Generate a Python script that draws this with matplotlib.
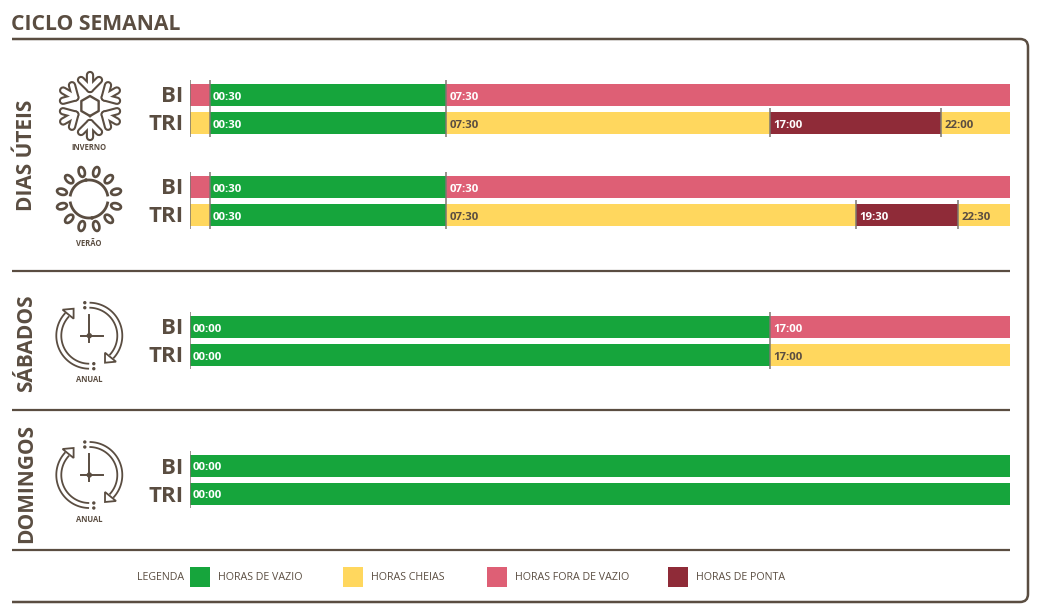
"""Ciclo semanal: horas de vazio, cheias, fora de vazio e ponta."""

import numpy as np
import matplotlib
matplotlib.use("Agg")
import matplotlib.pyplot as plt
from matplotlib.patches import Circle, Ellipse, PathPatch, Polygon, Rectangle
from matplotlib.path import Path

plt.rcParams["font.family"] = ["Open Sans", "DejaVu Sans"]

BROWN = "#5a4d41"
GREY = "#7d7770"
colors = {"V": "#16a53c", "C": "#ffd75e", "F": "#de5f75", "P": "#8f2b38"}

# every row: start hour of each stretch, its class and the printed time
row_names = ["BI", "TRI", "BI", "TRI", "BI", "TRI", "BI", "TRI"]
row_starts = [
    [0, 0.58, 7.5],
    [0, 0.58, 7.5, 17, 22],
    [0, 0.58, 7.5],
    [0, 0.58, 7.5, 19.5, 22.5],
    [0, 17],
    [0, 17],
    [0],
    [0],
]
row_classes = [
    ["F", "V", "F"],
    ["C", "V", "C", "P", "C"],
    ["F", "V", "F"],
    ["C", "V", "C", "P", "C"],
    ["V", "F"],
    ["V", "C"],
    ["V"],
    ["V"],
]
row_labels = [
    ["", "00:30", "07:30"],
    ["", "00:30", "07:30", "17:00", "22:00"],
    ["", "00:30", "07:30"],
    ["", "00:30", "07:30", "19:30", "22:30"],
    ["00:00", "17:00"],
    ["00:00", "17:00"],
    ["00:00"],
    ["00:00"],
]
legend_names = ["HORAS DE VAZIO", "HORAS CHEIAS", "HORAS FORA DE VAZIO", "HORAS DE PONTA"]
legend_classes = ["V", "C", "F", "P"]

# layout, in pixels of the picture
row_y = [95, 123, 187, 215, 327, 355, 466, 494]
legend_x = [190, 343, 487, 668]
W, H = 1042, 606
BAR_L, BAR_R = 190, 1009.5

fig = plt.figure(figsize=(W / 100, H / 100), dpi=100)
bg = fig.add_axes([0, 0, 1, 1])
bg.set_xlim(0, W)
bg.set_ylim(H, 0)
bg.axis("off")

ax = fig.add_axes([BAR_L / W, 0, (BAR_R - BAR_L) / W, 1])
ax.set_xlim(0, 24)
ax.set_ylim(H, 0)
ax.axis("off")
ax.patch.set_alpha(0)

# bars and their time labels
for y, starts, classes, labels in zip(row_y, row_starts, row_classes, row_labels):
    ends = starts[1:] + [24]
    for s, e, c, lab in zip(starts, ends, classes, labels):
        ax.barh(y, e - s, left=s, height=22, color=colors[c], linewidth=0)
        if lab:
            tc = BROWN if c == "C" else "white"
            ax.text(s + 0.09, y + 2, lab, color=tc, fontsize=8.2, fontweight="bold",
                    va="center", ha="left")

# time separators: one group per BI/TRI pair
for i in range(0, 8, 2):
    top, bot = row_y[i] - 15, row_y[i + 1] + 14
    for s in row_starts[i]:
        ax.plot([s, s], [top, bot], color=GREY, lw=1.1, solid_capstyle="butt")
    for s in row_starts[i + 1]:
        if s not in row_starts[i]:
            ax.plot([s, s], [row_y[i + 1] - 15, bot], color=GREY, lw=1.1, solid_capstyle="butt")

# row names
for y, name in zip(row_y, row_names):
    bg.text(183.5, y + 2, name, color=BROWN, fontsize=16, fontweight="bold", ha="right", va="center")

# title, frame and separators
bg.text(11, 24, "CICLO SEMANAL", color=BROWN, fontsize=15.2, fontweight="bold", ha="left", va="center")
frame = Path(
    [(12, 39), (1020, 39), (1028, 39), (1028, 47), (1028, 594), (1028, 602), (1020, 602), (12, 602)],
    [Path.MOVETO, Path.LINETO, Path.CURVE3, Path.CURVE3, Path.LINETO, Path.CURVE3, Path.CURVE3, Path.LINETO],
)
bg.add_patch(PathPatch(frame, fill=False, edgecolor=BROWN, lw=1.8))
for y in [271, 410, 550]:
    bg.plot([12, 1009.5], [y, y], color=BROWN, lw=1.6, solid_capstyle="butt")

# day names
for y, name in [(155, "DIAS ÚTEIS"), (343, "SÁBADOS"), (483, "DOMINGOS")]:
    bg.text(27, y, name, color=BROWN, fontsize=15, fontweight="bold", rotation=90,
            ha="center", va="center")


def snowflake(cx, cy):
    hex_a = np.radians(np.arange(0, 361, 60))
    bg.plot(cx + 10 * np.sin(hex_a), cy + 10 * np.cos(hex_a), color=BROWN, lw=1.7)
    strokes = []
    for a in np.radians(np.arange(0, 360, 60)):
        d = np.array([np.sin(a), -np.cos(a)])
        n = np.array([d[1], -d[0]])
        c0 = np.array([cx, cy]) + 17 * d
        strokes.append(np.array([c0, c0 + 14 * d]))
        strokes.append(np.array([c0 + 9 * d + 9 * n, c0, c0 + 9 * d - 9 * n]))
    for lw, col in [(6, BROWN), (3, "white")]:
        for st in strokes:
            bg.plot(st[:, 0], st[:, 1], color=col, lw=lw, solid_capstyle="round", solid_joinstyle="round")


def sun(cx, cy):
    for a0, a1 in [(-78, 78), (102, 258)]:
        a = np.radians(np.linspace(a0, a1, 60))
        bg.plot(cx + 19 * np.sin(a), cy - 19 * np.cos(a), color=BROWN, lw=2)
    for a in np.arange(15, 360, 30):
        r = np.radians(a)
        bg.add_patch(Ellipse((cx + 28 * np.sin(r), cy - 28 * np.cos(r)), 6, 10, angle=a,
                             facecolor="white", edgecolor=BROWN, lw=1.9))
    for sign in [-1, 1]:
        bg.add_patch(Circle((cx - 3 * sign, cy - sign * 19), 1.1, color=BROWN))


def clock(cx, cy):
    bg.plot([cx, cx], [cy - 21, cy + 6], color=BROWN, lw=1.4)
    bg.plot([cx - 8, cx + 14], [cy, cy], color=BROWN, lw=1.4)
    bg.add_patch(Circle((cx, cy), 2, color=BROWN))
    for a0, a1, sign in [(2, 132, 1), (182, 312, -1)]:
        a = np.radians(np.linspace(a0, a1, 60))
        for r in [33, 28]:
            bg.plot(cx + r * np.sin(a), cy - r * np.cos(a), color=BROWN, lw=1.3)
        # arrow head at the end of the arc
        tx, ty = cx + sign * 15.7, cy + sign * 27
        bg.add_patch(Polygon([(tx, ty), (tx + sign * 11, ty - sign * 1), (tx, ty - sign * 10)],
                             closed=True, facecolor="white", edgecolor=BROWN, lw=1.3, zorder=3))
        for dy in [28, 33]:
            bg.add_patch(Circle((cx - sign * 4.5, cy - sign * dy), 1, color=BROWN))


snowflake(90, 106)
sun(89, 199)
clock(89.3, 335.7)
clock(89.3, 475)
for y, name in [(148, "INVERNO"), (243, "VERÃO"), (379, "ANUAL"), (519, "ANUAL")]:
    bg.text(89, y, name, color=BROWN, fontsize=5.5, fontweight="bold", ha="center", va="center")

# legend
bg.text(184, 577, "LEGENDA", color=BROWN, fontsize=7.7, ha="right", va="center")
for x, c, name in zip(legend_x, legend_classes, legend_names):
    bg.add_patch(Rectangle((x, 567), 20, 20, facecolor=colors[c], edgecolor="none"))
    bg.text(x + 28, 577, name, color=BROWN, fontsize=7.7, ha="left", va="center")

fig.savefig("out.png", dpi=100, facecolor="white")
